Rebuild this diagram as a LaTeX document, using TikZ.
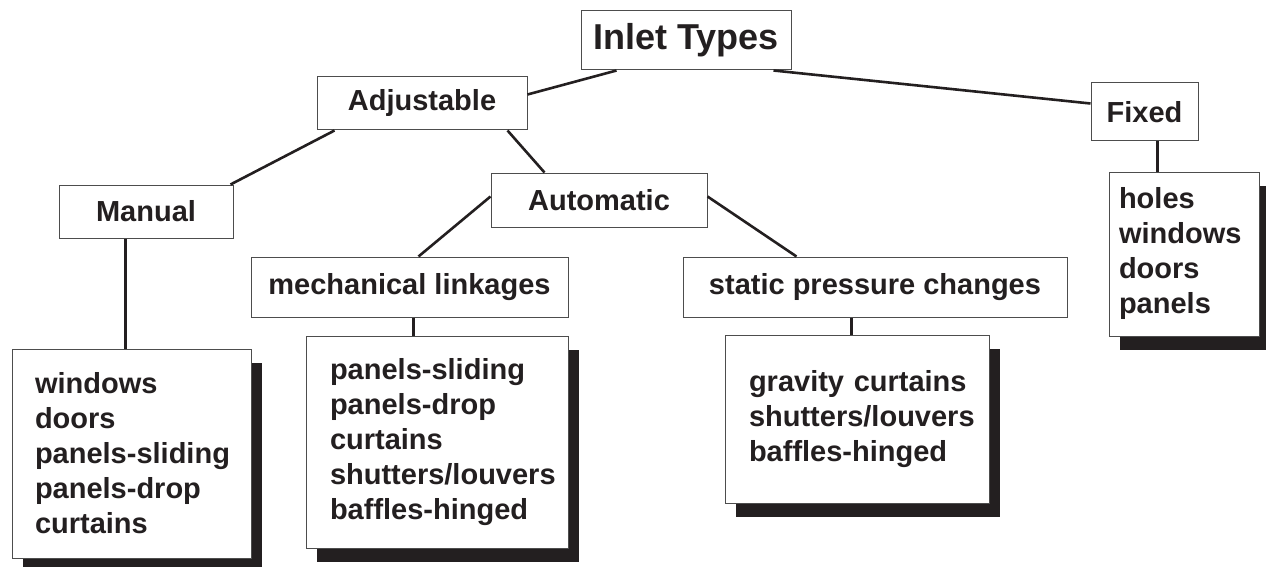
\documentclass[tikz,border=0pt]{standalone}
\usepackage{fontspec}
\setmainfont{Liberation Sans}
\usetikzlibrary{calc, shadows}
\lefthyphenmin=62
\definecolor{cink}{HTML}{231F20}
\definecolor{cedge}{HTML}{4D4D4D}
\tikzset{
  every picture/.style={x=1pt, y=-1pt, text=cink},
  box/.style={draw=cedge, fill=white, line width=1pt, inner sep=0pt, font=\bfseries\fontsize{29}{35}\selectfont},
  head/.style={box, font=\bfseries\fontsize{36}{43}\selectfont},
  listbox/.style={box, align=left, inner ysep=0pt,
    drop shadow={shadow xshift=11pt, shadow yshift=-14pt, fill=cink, opacity=1}},
  link/.style={draw=cink, line width=2.6pt},
}

\begin{document}
\begin{tikzpicture}
  \useasboundingbox (0,0) rectangle (1266,567);
  \node[head, minimum width=210pt, minimum height=59pt] (inlet) at (686,40.5) {Inlet Types};
  \node[box, minimum width=210pt, minimum height=53pt] (adj) at (422,103.5) {Adjustable};
  \node[box, minimum width=107pt, minimum height=58pt] (fixed) at (1144.5,112) {Fixed};
  \node[box, minimum width=174pt, minimum height=53pt] (manual) at (146,211.5) {Manual};
  \node[box, minimum width=216pt, minimum height=54pt] (auto) at (599,200) {Automatic};
  \node[box, minimum width=317pt, minimum height=60pt] (mech) at (409.5,287) {mechanical linkages};
  \node[box, minimum width=384pt, minimum height=60pt] (static) at (875,287) {static pressure changes};
  \node[listbox, text width=193pt, inner xsep=23pt, minimum height=209pt] (manlist) at (131.5,453.5)
    {windows\\doors\\\mbox{panels-sliding}\\\mbox{panels-drop}\\curtains};
  \node[listbox, text width=214pt, inner xsep=24pt, minimum height=212pt] (mechlist) at (437,442)
    {\mbox{panels-sliding}\\\mbox{panels-drop}\\curtains\\shutters/louvers\\\mbox{baffles-hinged}};
  \node[listbox, text width=216pt, inner xsep=24pt, minimum height=168pt] (statlist) at (857,419)
    {\mbox{gravity curtains}\\shutters/louvers\\\mbox{baffles-hinged}};
  \node[listbox, text width=130pt, inner xsep=10pt, minimum height=164pt] (fixlist) at (1184,254)
    {holes\\windows\\doors\\panels};
  \draw[link] ($(inlet.south west)+(36,0)$) -- ($(adj.north east)+(0,18)$);
  \draw[link] ($(inlet.south east)+(-18,0)$) -- ($(fixed.north west)+(0,21)$);
  \draw[link] ($(adj.south west)+(18,0)$) -- ($(manual.north east)+(-3,0)$);
  \draw[link] ($(adj.south west)+(191,0)$) -- ($(auto.north west)+(54,0)$);
  \draw[link] ($(auto.north west)+(0,24)$) -- ($(mech.north west)+(168,0)$);
  \draw[link] ($(auto.north east)+(0,24)$) -- ($(static.north west)+(114,0)$);
  \draw[link] ($(manual.south west)+(67,0)$) -- ($(manlist.north west)+(114,0)$);
  \draw[link] ($(mech.south west)+(163,0)$) -- ($(mechlist.north west)+(108,0)$);
  \draw[link] ($(static.south west)+(169,0)$) -- ($(statlist.north west)+(127,0)$);
  \draw[link] ($(fixed.south west)+(67,0)$) -- ($(fixlist.north west)+(49,0)$);
\end{tikzpicture}
\end{document}
